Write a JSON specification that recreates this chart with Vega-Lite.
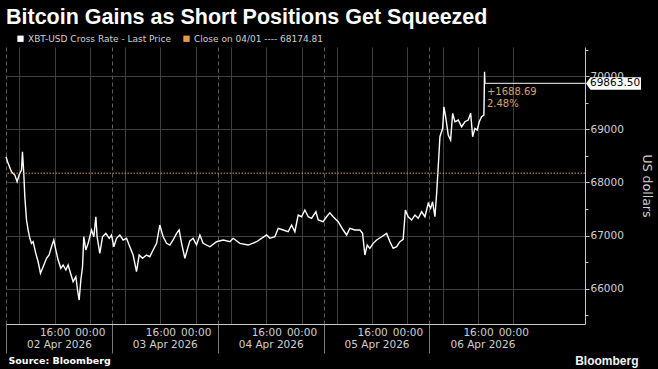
{
  "$schema": "https://vega.github.io/schema/vega-lite/v6.json",
  "width": 579,
  "height": 277,
  "autosize": {"type": "none"},
  "padding": {"left": 6, "top": 47, "right": 73, "bottom": 45},
  "background": "#000000",
  "title": {
    "text": "Bitcoin Gains as Short Positions Get Squeezed",
    "anchor": "start",
    "frame": "group",
    "font": "Liberation Sans",
    "fontSize": 21.5,
    "fontWeight": "bold",
    "color": "#ffffff",
    "baseline": "alphabetic",
    "offset": 0,
    "dy": 11
  },
  "config": {
    "view": {"stroke": null},
    "axis": {"labelFont": "DejaVu Sans", "titleFont": "DejaVu Sans"}
  },
  "datasets": {
    "price": [
      {"t": "2026-04-01T05:00Z", "v": 68484},
      {"t": "2026-04-01T05:29Z", "v": 68360},
      {"t": "2026-04-01T06:15Z", "v": 68202},
      {"t": "2026-04-01T07:00Z", "v": 68140},
      {"t": "2026-04-01T07:31Z", "v": 68014},
      {"t": "2026-04-01T07:58Z", "v": 68140},
      {"t": "2026-04-01T08:31Z", "v": 68234},
      {"t": "2026-04-01T08:44Z", "v": 68578},
      {"t": "2026-04-01T09:02Z", "v": 68172},
      {"t": "2026-04-01T09:16Z", "v": 67731},
      {"t": "2026-04-01T09:39Z", "v": 67293},
      {"t": "2026-04-01T10:01Z", "v": 67105},
      {"t": "2026-04-01T10:24Z", "v": 66949},
      {"t": "2026-04-01T10:47Z", "v": 66854},
      {"t": "2026-04-01T11:09Z", "v": 66885},
      {"t": "2026-04-01T11:45Z", "v": 66666},
      {"t": "2026-04-01T12:17Z", "v": 66508},
      {"t": "2026-04-01T12:49Z", "v": 66290},
      {"t": "2026-04-01T13:25Z", "v": 66414},
      {"t": "2026-04-01T14:11Z", "v": 66572},
      {"t": "2026-04-01T14:46Z", "v": 66634},
      {"t": "2026-04-01T15:19Z", "v": 66790},
      {"t": "2026-04-01T15:50Z", "v": 66917},
      {"t": "2026-04-01T16:18Z", "v": 66728},
      {"t": "2026-04-01T16:49Z", "v": 66540},
      {"t": "2026-04-01T17:26Z", "v": 66384},
      {"t": "2026-04-01T17:57Z", "v": 66446},
      {"t": "2026-04-01T18:34Z", "v": 66352},
      {"t": "2026-04-01T19:05Z", "v": 66446},
      {"t": "2026-04-01T19:38Z", "v": 66290},
      {"t": "2026-04-01T20:13Z", "v": 66132},
      {"t": "2026-04-01T20:50Z", "v": 66226},
      {"t": "2026-04-01T21:13Z", "v": 65976},
      {"t": "2026-04-01T21:35Z", "v": 65787},
      {"t": "2026-04-01T21:58Z", "v": 66164},
      {"t": "2026-04-01T22:21Z", "v": 66414},
      {"t": "2026-04-01T22:38Z", "v": 66979},
      {"t": "2026-04-01T23:06Z", "v": 66728},
      {"t": "2026-04-01T23:37Z", "v": 66854},
      {"t": "2026-04-02T00:23Z", "v": 67105},
      {"t": "2026-04-02T00:55Z", "v": 66979},
      {"t": "2026-04-02T01:22Z", "v": 67355},
      {"t": "2026-04-02T01:39Z", "v": 66979},
      {"t": "2026-04-02T02:16Z", "v": 66666},
      {"t": "2026-04-02T02:53Z", "v": 66979},
      {"t": "2026-04-02T03:38Z", "v": 67042},
      {"t": "2026-04-02T04:23Z", "v": 66949},
      {"t": "2026-04-02T04:55Z", "v": 67011},
      {"t": "2026-04-02T05:27Z", "v": 66790},
      {"t": "2026-04-02T06:03Z", "v": 66949},
      {"t": "2026-04-02T06:48Z", "v": 67011},
      {"t": "2026-04-02T07:33Z", "v": 66917},
      {"t": "2026-04-02T08:19Z", "v": 66949},
      {"t": "2026-04-02T09:04Z", "v": 66790},
      {"t": "2026-04-02T09:49Z", "v": 66634},
      {"t": "2026-04-02T10:35Z", "v": 66320},
      {"t": "2026-04-02T11:11Z", "v": 66634},
      {"t": "2026-04-02T11:57Z", "v": 66572},
      {"t": "2026-04-02T12:51Z", "v": 66634},
      {"t": "2026-04-02T13:36Z", "v": 66602},
      {"t": "2026-04-02T14:21Z", "v": 66728},
      {"t": "2026-04-02T15:08Z", "v": 66854},
      {"t": "2026-04-02T15:52Z", "v": 67199},
      {"t": "2026-04-02T16:37Z", "v": 66979},
      {"t": "2026-04-02T17:24Z", "v": 66854},
      {"t": "2026-04-02T18:08Z", "v": 66822},
      {"t": "2026-04-02T18:53Z", "v": 66917},
      {"t": "2026-04-02T19:40Z", "v": 67042},
      {"t": "2026-04-02T20:15Z", "v": 67105},
      {"t": "2026-04-02T20:48Z", "v": 66854},
      {"t": "2026-04-02T21:33Z", "v": 66572},
      {"t": "2026-04-02T22:04Z", "v": 66728},
      {"t": "2026-04-02T22:41Z", "v": 66900},
      {"t": "2026-04-02T23:25Z", "v": 66949},
      {"t": "2026-04-03T00:12Z", "v": 66822},
      {"t": "2026-04-03T00:57Z", "v": 67011},
      {"t": "2026-04-03T01:41Z", "v": 66854},
      {"t": "2026-04-03T03:13Z", "v": 66790},
      {"t": "2026-04-03T04:44Z", "v": 66885},
      {"t": "2026-04-03T06:14Z", "v": 66917},
      {"t": "2026-04-03T07:45Z", "v": 66885},
      {"t": "2026-04-03T08:30Z", "v": 66949},
      {"t": "2026-04-03T10:01Z", "v": 66854},
      {"t": "2026-04-03T11:54Z", "v": 66822},
      {"t": "2026-04-03T13:48Z", "v": 66885},
      {"t": "2026-04-03T14:56Z", "v": 66949},
      {"t": "2026-04-03T16:04Z", "v": 67011},
      {"t": "2026-04-03T16:49Z", "v": 66949},
      {"t": "2026-04-03T17:57Z", "v": 66979},
      {"t": "2026-04-03T18:42Z", "v": 67137},
      {"t": "2026-04-03T19:50Z", "v": 67105},
      {"t": "2026-04-03T20:58Z", "v": 67073},
      {"t": "2026-04-03T21:44Z", "v": 67199},
      {"t": "2026-04-03T22:29Z", "v": 67073},
      {"t": "2026-04-03T23:14Z", "v": 67387},
      {"t": "2026-04-04T00:00Z", "v": 67355},
      {"t": "2026-04-04T00:45Z", "v": 67481},
      {"t": "2026-04-04T01:30Z", "v": 67355},
      {"t": "2026-04-04T02:16Z", "v": 67325},
      {"t": "2026-04-04T03:15Z", "v": 67449},
      {"t": "2026-04-04T03:46Z", "v": 67293},
      {"t": "2026-04-04T04:54Z", "v": 67261},
      {"t": "2026-04-04T05:40Z", "v": 67355},
      {"t": "2026-04-04T06:25Z", "v": 67430},
      {"t": "2026-04-04T07:10Z", "v": 67355},
      {"t": "2026-04-04T08:18Z", "v": 67261},
      {"t": "2026-04-04T09:26Z", "v": 67105},
      {"t": "2026-04-04T10:13Z", "v": 67011},
      {"t": "2026-04-04T10:57Z", "v": 67137},
      {"t": "2026-04-04T12:05Z", "v": 67105},
      {"t": "2026-04-04T13:13Z", "v": 67105},
      {"t": "2026-04-04T13:50Z", "v": 67042},
      {"t": "2026-04-04T14:21Z", "v": 66634},
      {"t": "2026-04-04T14:53Z", "v": 66822},
      {"t": "2026-04-04T15:29Z", "v": 66760},
      {"t": "2026-04-04T16:14Z", "v": 66854},
      {"t": "2026-04-04T17:01Z", "v": 66917},
      {"t": "2026-04-04T18:09Z", "v": 66979},
      {"t": "2026-04-04T19:17Z", "v": 67042},
      {"t": "2026-04-04T20:02Z", "v": 66885},
      {"t": "2026-04-04T20:46Z", "v": 66760},
      {"t": "2026-04-04T21:33Z", "v": 66790},
      {"t": "2026-04-04T22:18Z", "v": 66885},
      {"t": "2026-04-04T23:02Z", "v": 66930},
      {"t": "2026-04-04T23:32Z", "v": 67481},
      {"t": "2026-04-05T00:10Z", "v": 67355},
      {"t": "2026-04-05T00:57Z", "v": 67293},
      {"t": "2026-04-05T01:42Z", "v": 67387},
      {"t": "2026-04-05T02:27Z", "v": 67325},
      {"t": "2026-04-05T03:13Z", "v": 67449},
      {"t": "2026-04-05T03:58Z", "v": 67355},
      {"t": "2026-04-05T04:43Z", "v": 67607},
      {"t": "2026-04-05T05:15Z", "v": 67513},
      {"t": "2026-04-05T05:42Z", "v": 67637},
      {"t": "2026-04-05T06:14Z", "v": 67355},
      {"t": "2026-04-05T06:37Z", "v": 67795},
      {"t": "2026-04-05T06:59Z", "v": 68296},
      {"t": "2026-04-05T07:22Z", "v": 68861},
      {"t": "2026-04-05T07:59Z", "v": 69019},
      {"t": "2026-04-05T08:16Z", "v": 69425},
      {"t": "2026-04-05T08:43Z", "v": 69207},
      {"t": "2026-04-05T09:15Z", "v": 68893},
      {"t": "2026-04-05T09:47Z", "v": 68799},
      {"t": "2026-04-05T10:15Z", "v": 69301},
      {"t": "2026-04-05T10:46Z", "v": 69143},
      {"t": "2026-04-05T11:31Z", "v": 69175},
      {"t": "2026-04-05T12:17Z", "v": 69049},
      {"t": "2026-04-05T13:02Z", "v": 69143},
      {"t": "2026-04-05T13:47Z", "v": 69175},
      {"t": "2026-04-05T14:20Z", "v": 69301},
      {"t": "2026-04-05T14:47Z", "v": 68861},
      {"t": "2026-04-05T15:18Z", "v": 69019},
      {"t": "2026-04-05T15:49Z", "v": 68987},
      {"t": "2026-04-05T16:17Z", "v": 69143},
      {"t": "2026-04-05T16:49Z", "v": 69237},
      {"t": "2026-04-05T17:20Z", "v": 69269},
      {"t": "2026-04-05T17:29Z", "v": 70084},
      {"t": "2026-04-05T17:34Z", "v": 69863.5}
    ],
    "ann": [
      {"t": "2026-04-05T17:34Z", "last": 69863.5, "close": 68174.81, "chg": "+1688.69", "pct": "2.48%"}
    ]
  },
  "layer": [
    {
      "data": {"name": "price"},
      "mark": {"type": "line", "strokeWidth": 1.4, "interpolate": "linear"},
      "encoding": {
        "x": {
          "field": "t",
          "type": "temporal",
          "scale": {
            "type": "utc",
            "domain": [
              {"year": 2026, "month": 4, "date": 1, "hours": 5, "utc": true},
              {"year": 2026, "month": 4, "date": 6, "hours": 16, "minutes": 15, "utc": true}
            ]
          },
          "axis": {
            "values": [
              {"year": 2026, "month": 4, "date": 1, "hours": 5, "utc": true},
              {"year": 2026, "month": 4, "date": 1, "hours": 8, "utc": true},
              {"year": 2026, "month": 4, "date": 1, "hours": 16, "utc": true},
              {"year": 2026, "month": 4, "date": 1, "hours": 17, "utc": true},
              {"year": 2026, "month": 4, "date": 2, "hours": 0, "utc": true},
              {"year": 2026, "month": 4, "date": 2, "hours": 5, "utc": true},
              {"year": 2026, "month": 4, "date": 2, "hours": 8, "utc": true},
              {"year": 2026, "month": 4, "date": 2, "hours": 16, "utc": true},
              {"year": 2026, "month": 4, "date": 2, "hours": 17, "utc": true},
              {"year": 2026, "month": 4, "date": 3, "hours": 0, "utc": true},
              {"year": 2026, "month": 4, "date": 3, "hours": 5, "utc": true},
              {"year": 2026, "month": 4, "date": 3, "hours": 8, "utc": true},
              {"year": 2026, "month": 4, "date": 3, "hours": 16, "utc": true},
              {"year": 2026, "month": 4, "date": 3, "hours": 17, "utc": true},
              {"year": 2026, "month": 4, "date": 4, "hours": 0, "utc": true},
              {"year": 2026, "month": 4, "date": 4, "hours": 5, "utc": true},
              {"year": 2026, "month": 4, "date": 4, "hours": 8, "utc": true},
              {"year": 2026, "month": 4, "date": 4, "hours": 16, "utc": true},
              {"year": 2026, "month": 4, "date": 4, "hours": 17, "utc": true},
              {"year": 2026, "month": 4, "date": 5, "hours": 0, "utc": true},
              {"year": 2026, "month": 4, "date": 5, "hours": 5, "utc": true},
              {"year": 2026, "month": 4, "date": 5, "hours": 8, "utc": true},
              {"year": 2026, "month": 4, "date": 5, "hours": 16, "utc": true},
              {"year": 2026, "month": 4, "date": 5, "hours": 17, "utc": true},
              {"year": 2026, "month": 4, "date": 6, "hours": 0, "utc": true}
            ],
            "labelExpr": "utchours(datum.value) == 17 ? utcFormat(datum.value + 25200000, '%d %b %Y') : ((utchours(datum.value) == 16 || utchours(datum.value) == 0) ? utcFormat(datum.value, '%H:%M') : '')",
            "labelPadding": {"condition": {"test": "utchours(datum.value) == 17", "value": 15}, "value": 3},
            "labelFontSize": 10.5,
            "labelColor": "#d0d0d0",
            "labelOverlap": false,
            "labelFlush": false,
            "labelBound": false,
            "domainColor": "#c8c8c8",
            "tickSize": {"condition": {"test": "utchours(datum.value) == 5", "value": 29}, "value": 0},
            "tickColor": "#7a7a7a",
            "tickOpacity": {"condition": {"test": "utchours(datum.value) == 5", "value": 1}, "value": 0},
            "grid": true,
            "gridColor": {"condition": {"test": "utchours(datum.value) == 5", "value": "#5e5e5e"}, "value": "#404040"},
            "gridDash": {"condition": {"test": "utchours(datum.value) == 5", "value": [4, 3]}, "value": []},
            "gridOpacity": {"condition": {"test": "utchours(datum.value) == 17", "value": 0}, "value": 1},
            "title": "Source: Bloomberg",
            "titleFont": "DejaVu Sans",
            "titleFontSize": 9.5,
            "titleFontWeight": "bold",
            "titleColor": "#ffffff",
            "titleAnchor": "start",
            "titleAlign": "left",
            "titleBaseline": "alphabetic",
            "titleX": 2,
            "titleY": 39
          }
        },
        "y": {
          "field": "v",
          "type": "quantitative",
          "scale": {"domain": [65336, 70550], "nice": false, "zero": false},
          "axis": {
            "orient": "right",
            "values": [66000, 67000, 68000, 69000, 70000],
            "format": "d",
            "labelFontSize": 10.5,
            "labelColor": "#d0d0d0",
            "labelPadding": 1,
            "labelOverlap": false,
            "labelFlush": false,
            "tickSize": 4,
            "tickColor": "#c8c8c8",
            "domainColor": "#c8c8c8",
            "grid": true,
            "gridColor": "#404040",
            "title": "US dollars",
            "titleFontSize": 12.5,
            "titleFontWeight": "normal",
            "titleColor": "#d0d0d0",
            "titlePadding": 16
          }
        },
        "color": {
          "datum": "XBT-USD Cross Rate - Last Price",
          "scale": {
            "domain": ["XBT-USD Cross Rate - Last Price", "Close on 04/01 ---- 68174.81"],
            "range": ["#ffffff", "#e39b4d"]
          },
          "legend": {
            "orient": "none",
            "legendX": 10,
            "legendY": -13,
            "direction": "horizontal",
            "title": null,
            "symbolType": "square",
            "symbolSize": 40,
            "symbolStrokeWidth": 0,
            "labelFont": "DejaVu Sans",
            "labelFontSize": 9,
            "labelColor": "#d0d0d0",
            "labelOffset": 3,
            "columnPadding": 10,
            "padding": 0,
            "encode": {
              "symbols": {
                "update": {
                  "fill": {"scale": "color", "field": "value"},
                  "fillOpacity": {"value": 1},
                  "strokeWidth": {"value": 0}
                }
              }
            }
          }
        }
      }
    },
    {
      "data": {"name": "ann"},
      "mark": {"type": "rule", "strokeDash": [1.5, 1.5], "strokeWidth": 1},
      "encoding": {
        "y": {
          "field": "close",
          "type": "quantitative",
          "scale": {"domain": [65336, 70550], "nice": false, "zero": false},
          "axis": {
            "orient": "right",
            "values": [65500, 66500, 67500, 68500, 69500, 70500],
            "labels": false,
            "domain": false,
            "grid": false,
            "ticks": true,
            "tickSize": 3,
            "tickColor": "#c8c8c8",
            "title": null
          }
        },
        "color": {"datum": "Close on 04/01 ---- 68174.81"}
      }
    },
    {
      "data": {"name": "ann"},
      "encoding": {
        "y": {"field": "last", "type": "quantitative", "scale": {"domain": [65336, 70550], "nice": false, "zero": false}, "axis": null}
      },
      "layer": [
        {
          "mark": {"type": "rule", "color": "#c8c8c8", "strokeWidth": 1.2},
          "encoding": {
            "x": {
              "field": "t",
              "type": "temporal",
              "scale": {
                "type": "utc",
                "domain": [
                  {"year": 2026, "month": 4, "date": 1, "hours": 5, "utc": true},
                  {"year": 2026, "month": 4, "date": 6, "hours": 16, "minutes": 15, "utc": true}
                ]
              },
              "axis": {
                "orient": "bottom",
                "labels": false,
                "ticks": false,
                "domain": false,
                "grid": false,
                "title": "Bloomberg",
                "titleFont": "Liberation Sans",
                "titleFontSize": 12,
                "titleFontWeight": "bold",
                "titleColor": "#f2f2f2",
                "titleAnchor": "end",
                "titleAlign": "right",
                "titleBaseline": "alphabetic",
                "titleX": 632,
                "titleY": 40
              }
            },
            "x2": {"value": "width"}
          }
        },
        {
          "mark": {"type": "text", "align": "left", "baseline": "middle", "dx": 2, "dy": 9, "font": "DejaVu Sans", "fontSize": 10, "color": "#d9a46e"},
          "encoding": {
            "x": {"field": "t", "type": "temporal"},
            "text": {"field": "chg"}
          }
        },
        {
          "mark": {"type": "text", "align": "left", "baseline": "middle", "dx": 2, "dy": 21, "font": "DejaVu Sans", "fontSize": 10, "color": "#d9a46e"},
          "encoding": {
            "x": {"field": "t", "type": "temporal"},
            "text": {"field": "pct"}
          }
        },
        {
          "mark": {"type": "point", "shape": "M0,0L0.45,-0.62L5.5,-0.62L5.5,0.62L0.45,0.62Z", "size": 400, "filled": true, "color": "#ffffff", "opacity": 1, "strokeWidth": 0, "xOffset": 1},
          "encoding": {"x": {"value": "width"}}
        },
        {
          "mark": {"type": "text", "align": "left", "baseline": "middle", "dx": 5, "font": "DejaVu Sans", "fontSize": 10.5, "color": "#000000"},
          "encoding": {
            "x": {"value": "width"},
            "text": {"field": "last", "type": "quantitative", "format": ".2f"}
          }
        }
      ]
    }
  ],
  "resolve": {"scale": {"x": "independent", "y": "independent"}}
}
